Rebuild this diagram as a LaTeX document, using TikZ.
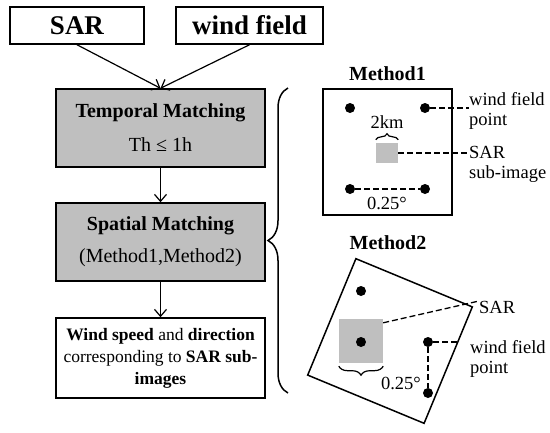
\documentclass[tikz,border=0pt]{standalone}
\usepackage{fontspec}
\setmainfont{Liberation Serif}
\usetikzlibrary{arrows.meta,decorations.pathreplacing}

\begin{document}
\begin{tikzpicture}[x=1pt,y=-1pt,
	inbox/.style={draw,line width=1.5pt,minimum height=37pt,inner sep=0pt,font=\fontsize{27}{30}\selectfont\bfseries},
	procbox/.style={draw,line width=1.5pt,fill=gray!50,minimum width=209pt,minimum height=78pt,align=center,inner sep=0pt,font=\fontsize{20}{24}\selectfont},
	arr/.style={-{Straight Barb[length=7pt,width=12pt]},line width=1.2pt},
	dot/.style={circle,fill=black,minimum size=10pt,inner sep=0pt},
	subimg/.style={fill=gray!50,inner sep=0pt},
	lbl/.style={font=\fontsize{18.5}{20}\selectfont,align=left,inner sep=0pt},
	ttl/.style={font=\fontsize{20}{24}\selectfont\bfseries},
	lead/.style={dash pattern=on 6pt off 3pt,line width=1.3pt},
	brc/.style={line width=1.2pt,decorate}]
	\useasboundingbox (0,0) rectangle (550,432);
	% flow chart
	\node[inbox,minimum width=134pt] (sar) at (77,25.5) {SAR};
	\node[inbox,minimum width=147pt] (wind) at (249.5,25.5) {wind field};
	\node[procbox] (temporal) at (160.5,128) {\textbf{Temporal Matching}\\[10pt]Th ≤ 1h};
	\node[procbox] (spatial) at (160.5,242) {\textbf{Spatial Matching}\\[8pt](Method1,Method2)};
	\node[procbox,fill=white,minimum height=80pt,font=\fontsize{17.5}{22}\selectfont] (result) at (160.5,358)
		{\textbf{Wind speed} and \textbf{direction}\\corresponding to \textbf{SAR sub-}\\\textbf{images}};
	\draw[arr] (sar.south) -- (temporal.north);
	\draw[arr] (wind.south) -- (temporal.north);
	\draw[arr] (temporal) -- (spatial);
	\draw[arr] (spatial) -- (result);
	\draw[brc,line width=1.5pt,decoration={brace,amplitude=20pt}] (288,393) -- (288,88);
	% method 1
	\node[ttl] (m1title) at (387.5,74) {Method1};
	\node[draw,line width=1.5pt,minimum width=129pt,minimum height=126pt] (m1) at (387.5,152) {};
	\node[subimg,minimum width=22pt,minimum height=20pt] (sub1) at (387,153) {};
	\foreach \n/\p in {a1/{(350,108)},a2/{(425,108)},a3/{(350,189)},a4/{(425,189)}}
		\node[dot] (\n) at \p {};
	\draw[brc,decoration={brace,amplitude=6pt}] ([yshift=3pt]sub1.north west) -- ([yshift=3pt]sub1.north east);
	\node[lbl] (km1) at (387,122) {2km};
	\node[lbl,anchor=west] (wf1) at (469,111) {wind field\\point};
	\node[lbl,anchor=west] (sub1lbl) at (469,164) {SAR\\sub-image};
	\draw[lead] (a2) -- (a2 -| wf1.west);
	\draw[lead] (sub1) -- (sub1 -| sub1lbl.west);
	\draw[lead] (a3) -- (a4);
	\node[lbl] (deg1) at (387,203) {0.25°};
	% method 2
	\node[ttl] (m2title) at (388,243) {Method2};
	\node[draw,line width=1.5pt,minimum size=126pt,rotate=-22.5] (m2) at (390,341) {};
	\node[subimg,minimum size=44pt] (sub2) at (361,341) {};
	\foreach \n/\p in {b1/{(361,291)},b2/{(361,342)},b3/{(428,342)},b4/{(428,393)}}
		\node[dot] (\n) at \p {};
	\draw[brc,decoration={brace,amplitude=9pt}] ([yshift=-3pt]sub2.south east) -- ([yshift=-3pt]sub2.south west);
	\node[lbl,anchor=west] (sar2) at (479,307) {SAR};
	\node[lbl,anchor=west] (wf2) at (470,359) {wind field\\point};
	\draw[lead] ([yshift=-4pt]sub2.north east) -- ([yshift=6pt]sar2.west);
	\draw[lead] (b3) -- ([xshift=-10pt]b3 -| wf2.west);
	\draw[lead] (b3) -- (b4);
	\node[lbl] (deg2) at (401,383) {0.25°};
\end{tikzpicture}
\end{document}
